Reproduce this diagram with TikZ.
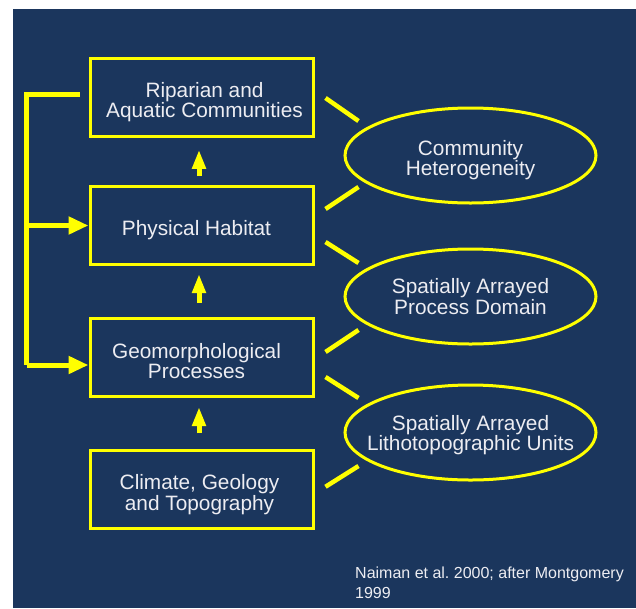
\documentclass[tikz,border=0pt]{standalone}
\usepackage{fontspec}
\setmainfont{Liberation Sans}
\usetikzlibrary{arrows.meta,shapes.geometric,calc}
\definecolor{navy}{HTML}{1B365D}
\definecolor{ylw}{HTML}{FFFF00}
\definecolor{txt}{HTML}{EDEDF2}
\begin{document}
\begin{tikzpicture}[x=1pt,y=-1pt,
  box/.style={draw=ylw,line width=3pt,minimum width=223pt,minimum height=78pt,inner sep=0pt},
  oval/.style={draw=ylw,ellipse,line width=3pt,minimum width=251pt,minimum height=95pt,inner sep=0pt},
  label/.style={inner sep=0pt,align=center,text=txt,font=\fontsize{20.8}{20.5}\selectfont},
  link/.style={draw=ylw,line width=4.5pt},
  uparrow/.style={draw=ylw,fill=ylw,line width=5pt,-{Triangle[width=13pt,length=19pt]}},
  sidearrow/.style={draw=ylw,fill=ylw,line width=5pt,-{Triangle[width=17pt,length=20pt]}},
  bracket/.style={draw=ylw,line width=5pt,line join=miter}]
\useasboundingbox (0,0) rectangle (636,608);
\fill[white] (0,0) rectangle (636,608);
\fill[navy] (13,9) rectangle (636,608);

\node[box] (b1) at (201.5,97.25) {};
\node[box] (b2) at (201.5,225.5) {};
\node[box] (b3) at (201.5,357.5) {};
\node[box] (b4) at (201.5,489.75) {};
\node[label] (t1) at ($(b1)+(3,5)$) {Riparian and\\Aquatic Communities};
\node[label] (t2) at ($(b2)+(-5,5)$) {Physical Habitat};
\node[label] (t3) at ($(b3)+(-5,3.5)$) {Geomorphological\\Processes};
\node[label] (t4) at ($(b4)+(-2,5)$) {Climate, Geology\\and Topography};

\node[oval] (e1) at (470.5,155.5) {};
\node[oval] (e2) at (470.5,296.5) {};
\node[oval] (e3) at (470.5,432.5) {};
\node[label] (u1) at ($(e1)+(0,4.5)$) {Community\\Heterogeneity};
\node[label] (u2) at ($(e2)+(0,0)$) {Spatially Arrayed\\Process Domain};
\node[label] (u3) at ($(e3)+(0,2.5)$) {Spatially Arrayed\\Lithotopographic Units};

% up arrows
\draw[uparrow] ($(b2.north)+(-2.5,-9)$) -- ($(b1.south)+(-2.5,12)$);
\draw[uparrow] ($(b3.north)+(-2.5,-14)$) -- ($(b2.south)+(-2.5,8)$);
\draw[uparrow] ($(b4.north)+(-2.5,-16)$) -- ($(b3.south)+(-2.5,9)$);

% left bracket
\coordinate (bt) at ($(b1.west)+(-9,-2.75)$);
\coordinate (bb) at (26.5,365);
\draw[bracket] (bt) -| (bb);
\draw[sidearrow] (26.5,225.5) -- (b2.west);
\draw[sidearrow] (bb) -- ($(b3.west)+(0,7.5)$);

% links to ovals
\draw[link] ($(b1.east)+(11,0.75)$) -- ($(e1.west)+(15,-34.5)$);
\draw[link] ($(b2.east)+(11,-16.5)$) -- ($(e1.west)+(15,31.5)$);
\draw[link] ($(b2.east)+(11,16.5)$) -- ($(e2.west)+(15,-33.5)$);
\draw[link] ($(b3.east)+(11,-5.5)$) -- ($(e2.west)+(15,33.5)$);
\draw[link] ($(b3.east)+(11,19.5)$) -- ($(e3.west)+(15,-34.5)$);
\draw[link] ($(b4.east)+(11,-3)$) -- ($(e3.west)+(15,33.5)$);

\node[anchor=north west,align=left,inner sep=0pt,text=txt,font=\fontsize{16}{20}\selectfont] (ref) at (355,567) {Naiman et al.\ 2000; after Montgomery\\1999};
\end{tikzpicture}
\end{document}
